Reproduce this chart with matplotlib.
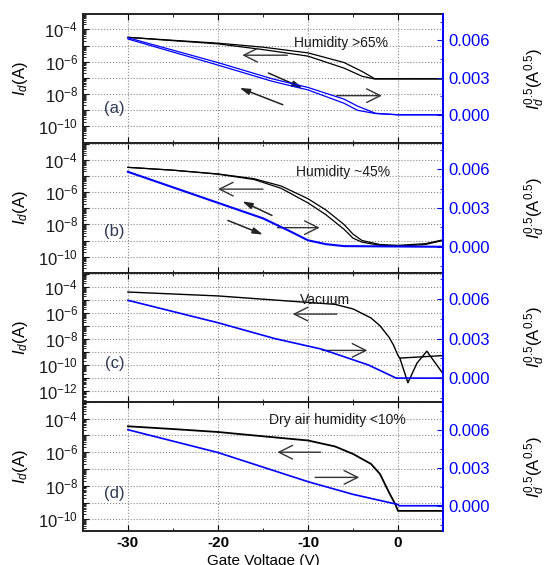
import numpy as np
import matplotlib
matplotlib.use('Agg')
import matplotlib.pyplot as plt
from matplotlib.ticker import LogLocator, FuncFormatter, MultipleLocator, NullFormatter, FormatStrFormatter

plt.rcParams['font.family'] = ['Liberation Sans', 'DejaVu Sans']
plt.rcParams['mathtext.fontset'] = 'custom'
plt.rcParams['mathtext.rm'] = 'Liberation Sans'
plt.rcParams['mathtext.it'] = 'Liberation Sans:italic'
plt.rcParams['axes.unicode_minus'] = False

# ---- data ----
# (a) humidity > 65 %
a_v = [-30, -25, -20, -15, -10, -6, -4, -2.6, 0, 5]
a_id_rev = [3.2e-5, 2.1e-5, 1.4e-5, 7.9e-6, 3.5e-6, 8.9e-7, 2.5e-7, 8.9e-8, 8.9e-8, 8.9e-8]
a_id_fwd = [3.2e-5, 2.0e-5, 1.26e-5, 5.6e-6, 2.2e-6, 4.0e-7, 1.26e-7, 8.5e-8, 8.5e-8, 8.5e-8]
a_sq_v = [-30, -20, -14, -10, -6, -4.5, -2.5, 0, 5]
a_sq_rev = [0.0062, 0.0042, 0.0029, 0.0022, 0.00126, 0.0007, 0.00012, 0.0, 0.0]
a_sq_fwd = [0.0061, 0.0040, 0.0027, 0.0020, 0.00093, 0.00036, 0.0001, 0.0, 0.0]

# (b) humidity ~ 45 %
b_v = [-30, -25, -20, -16, -13, -10, -8, -6, -5, -4, -2, 0, 3, 5]
b_id_rev = [3.6e-5, 2.4e-5, 1.4e-5, 7.1e-6, 2.5e-6, 4.0e-7, 7.9e-8, 1.0e-8, 2.5e-9,
            1.0e-9, 5.6e-10, 5.0e-10, 6.3e-10, 1.1e-9]
b_id_fwd = [3.6e-5, 2.4e-5, 1.35e-5, 6.3e-6, 1.8e-6, 2.2e-7, 4.0e-8, 5.0e-9, 1.4e-9,
            7.9e-10, 5.0e-10, 4.5e-10, 5.6e-10, 1.0e-9]
b_sq_v = [-30, -20, -15, -12, -10, -8, -6, 5]
b_sq = [0.0058, 0.0034, 0.0022, 0.0012, 0.0005, 0.0002, 0.00005, 0.0]

# (c) vacuum
c_v_rev = [-30, -20, -10, -7, -5, -3, -2, -1, -0.5, 0, 0.2, 5]
c_id_rev = [4.0e-5, 2.0e-5, 6.3e-6, 4.5e-6, 2.0e-6, 4.0e-7, 1.0e-7, 1.3e-8, 3.2e-9,
            5.0e-10, 3.2e-10, 5.0e-10]
c_v_fwd = [0.2, 1.1, 2.1, 3.2, 5]
c_id_fwd = [3.2e-10, 4.0e-12, 1.3e-10, 1.1e-9, 2.0e-11]
c_sq_v = [-30, -20, -13.7, -8.5, -3.3, -0.2, 5]
c_sq = [0.0059, 0.0042, 0.0030, 0.0022, 0.0010, 0.0, 0.0]

# (d) dry air humidity < 10 %
d_v = [-30, -25, -20, -15, -10, -7, -5, -3, -2, -1, -0.3, 0, 5]
d_id = [3.5e-5, 2.4e-5, 1.6e-5, 8.9e-6, 5.0e-6, 2.2e-6, 7.9e-7, 2.0e-7, 5.0e-8,
        4.0e-9, 7.9e-10, 3.2e-10, 3.2e-10]
d_sq_v = [-30, -20, -10, -5, 0, 0.1, 5]
d_sq = [0.0060, 0.0042, 0.0019, 0.0009, 0.0001, 0.0, 0.0]

panel_tags = ['(a)', '(b)', '(c)', '(d)']
panel_notes = ['Humidity >65%', 'Humidity ~45%', 'Vacuum', 'Dry air humidity <10%']
note_pos = [(-6.3, 0.78), (-6.1, 0.78), (-8.1, 0.79), (-6.7, 0.86)]
tag_y = [0.27, 0.32, 0.30, 0.29]
log_lims = [(-11.05, -3.06), (-11.0, -2.95), (-12.87, -2.9), (-10.7, -3.0)]
lin_lims = [(-0.0023, 0.0081), (-0.002, 0.008), (-0.0018, 0.008), (-0.002, 0.0082)]

# open sweep arrows (V0, V1, Id) and small slanted arrows (V0, Id0, V1, Id1)
open_arrows = [
    [(-12.3, -17.3, 10**-5.6), (-6.8, -1.8, 10**-8.1)],
    [(-15.0, -20.0, 10**-5.8), (-13.4, -8.7, 10**-8.2)],
    [(-6.8, -11.7, 10**-6.1), (-8.4, -3.4, 10**-8.9)],
    [(-8.6, -13.4, 10**-6.0), (-9.2, -4.3, 10**-7.5)],
]
small_arrows = [
    [(-14.4, 10**-6.7, -10.6, 10**-7.63), (-12.8, 10**-8.66, -17.6, 10**-7.62)],
    [(-14.0, 10**-7.44, -17.3, 10**-6.56), (-18.9, 10**-7.75, -15.0, 10**-8.63)],
    [],
    [],
]

BLUE = '#0000ff'
DARK = '#1a1a1a'

fig, axes = plt.subplots(4, 1, figsize=(5.49, 5.65), dpi=100, sharex=True)
fig.subplots_adjust(left=0.151, right=0.807, top=0.975, bottom=0.060, hspace=0)


def log_fmt(v, pos):
    e = int(round(np.log10(v)))
    if e % 2 == 0:
        return r'$10^{%d}$' % e
    return ''


twins = []
for i, ax in enumerate(axes):
    ax.set_yscale('log')
    ax.set_ylim(10**log_lims[i][0], 10**log_lims[i][1])
    ax.set_xlim(-35, 5)
    ax.yaxis.set_major_locator(LogLocator(base=10, numticks=30))
    ax.yaxis.set_major_formatter(FuncFormatter(log_fmt))
    ax.yaxis.set_minor_locator(LogLocator(base=10, subs=np.arange(2, 10), numticks=30))
    ax.yaxis.set_minor_formatter(NullFormatter())
    ax.xaxis.set_major_locator(MultipleLocator(10))
    ax.xaxis.set_minor_locator(MultipleLocator(5))
    ax.grid(True, which='major', ls=':', color='#888888', lw=0.8)
    ax.tick_params(axis='both', which='both', direction='in', top=True, right=False)
    ax.tick_params(axis='y', which='major', length=4, labelsize=12, colors=DARK)
    ax.tick_params(axis='y', which='minor', length=2)
    ax.tick_params(axis='x', which='major', length=4)
    ax.tick_params(axis='x', which='minor', length=2.5)
    for s in ['left', 'top', 'bottom']:
        ax.spines[s].set_linewidth(1.4)
        ax.spines[s].set_color('#222222')
    ax.spines['right'].set_visible(False)
    ax.set_ylabel(r'$I_d$(A)', fontsize=12)
    ax.yaxis.set_label_coords(-0.147, 0.5)

    ax2 = ax.twinx()
    ax2.set_ylim(*lin_lims[i])
    ax2.yaxis.set_major_locator(MultipleLocator(0.003))
    ax2.yaxis.set_minor_locator(MultipleLocator(0.0015))
    ax2.yaxis.set_major_formatter(FormatStrFormatter('%.3f'))
    ax2.tick_params(axis='y', which='both', direction='in', colors=BLUE, labelsize=12)
    ax2.tick_params(axis='y', which='major', length=4)
    ax2.tick_params(axis='y', which='minor', length=2)
    for s in ['left', 'top', 'bottom']:
        ax2.spines[s].set_visible(False)
    ax2.spines['right'].set_color(BLUE)
    ax2.spines['right'].set_linewidth(1.4)
    ax2.set_ylabel(r'$I_d^{0.5}$(A$^{0.5}$)', fontsize=12, rotation=90)
    ax2.yaxis.set_label_coords(1.222, 0.5)
    twins.append(ax2)

    ax.text(-31.5, 10**(log_lims[i][0] + tag_y[i] * (log_lims[i][1] - log_lims[i][0])),
            panel_tags[i], ha='center', va='center', fontsize=12, color='#2f3b52')
    nx, ny = note_pos[i]
    ax.text(nx, 10**(log_lims[i][0] + ny * (log_lims[i][1] - log_lims[i][0])),
            panel_notes[i], ha='center', va='center', fontsize=10, color=DARK)

    for v0, v1, y in open_arrows[i]:
        ax.annotate('', xy=(v1, y), xytext=(v0, y),
                    arrowprops=dict(arrowstyle='->,head_length=0.7,head_width=0.35',
                                    color='#333333', lw=1.0, shrinkA=0, shrinkB=0,
                                    mutation_scale=14))
    for v0, y0, v1, y1 in small_arrows[i]:
        ax.annotate('', xy=(v1, y1), xytext=(v0, y0),
                    arrowprops=dict(arrowstyle='-|>,head_length=0.5,head_width=0.15',
                                    color='#222222', lw=1.1, shrinkA=0, shrinkB=0,
                                    mutation_scale=12))

# (a)
axes[0].plot(a_v, a_id_rev, color='black', lw=0.9)
axes[0].plot(a_v, a_id_fwd, color='black', lw=0.9)
twins[0].plot(a_sq_v, a_sq_rev, color=BLUE, lw=0.9)
twins[0].plot(a_sq_v, a_sq_fwd, color=BLUE, lw=0.9)

# (b)
axes[1].plot(b_v, b_id_rev, color='black', lw=0.9)
axes[1].plot(b_v, b_id_fwd, color='black', lw=0.9)
twins[1].plot(b_sq_v, b_sq, color=BLUE, lw=1.5)

# (c)
axes[2].plot(c_v_rev, c_id_rev, color='black', lw=1.0)
axes[2].plot(c_v_fwd, c_id_fwd, color='black', lw=1.0)
twins[2].plot(c_sq_v, c_sq, color=BLUE, lw=1.2)

# (d)
axes[3].plot(d_v, d_id, color='black', lw=1.3)
twins[3].plot(d_sq_v, d_sq, color=BLUE, lw=1.2)

axes[3].xaxis.set_major_formatter(FormatStrFormatter('%d'))
for lab in axes[3].get_xticklabels():
    lab.set_fontweight('bold')
    lab.set_fontsize(11)
axes[3].set_xlabel('Gate Voltage (V)', fontsize=11, labelpad=3)

fig.savefig('out.png', dpi=100)
